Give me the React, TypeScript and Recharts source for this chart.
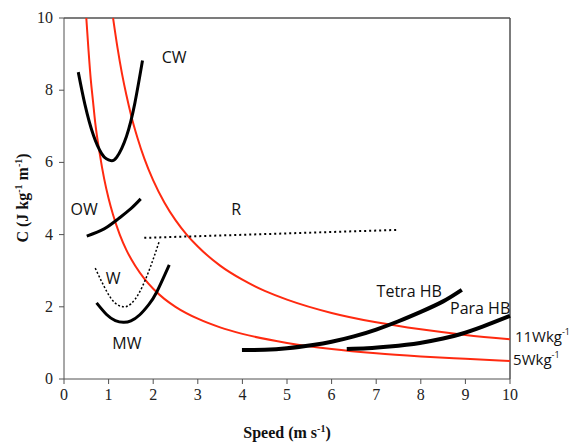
import React from 'react';
import { LineChart, Line, XAxis, YAxis, ReferenceLine, ReferenceDot } from 'recharts';

type Pt = { x: number; y: number };

// red iso-power curves
const p5W: Pt[] = [
  { x: 0.5, y: 10 }, { x: 0.55, y: 9.1 }, { x: 0.6, y: 8.3 }, { x: 0.65, y: 7.7 }, { x: 0.7, y: 7.1 },
  { x: 0.8, y: 6.25 }, { x: 0.9, y: 5.55 }, { x: 1, y: 5 }, { x: 1.1, y: 4.55 }, { x: 1.25, y: 4 },
  { x: 1.4, y: 3.57 }, { x: 1.6, y: 3.13 }, { x: 1.8, y: 2.78 }, { x: 2, y: 2.5 }, { x: 2.25, y: 2.22 },
  { x: 2.5, y: 2 }, { x: 3, y: 1.67 }, { x: 3.5, y: 1.43 }, { x: 4, y: 1.25 }, { x: 5, y: 1 },
  { x: 6, y: 0.83 }, { x: 7, y: 0.71 }, { x: 8, y: 0.625 }, { x: 9, y: 0.56 }, { x: 10, y: 0.5 },
];
const p11W: Pt[] = [
  { x: 1.1, y: 10 }, { x: 1.2, y: 9.17 }, { x: 1.3, y: 8.46 }, { x: 1.4, y: 7.86 }, { x: 1.5, y: 7.33 },
  { x: 1.65, y: 6.67 }, { x: 1.8, y: 6.11 }, { x: 2, y: 5.5 }, { x: 2.25, y: 4.89 }, { x: 2.5, y: 4.4 },
  { x: 2.75, y: 4 }, { x: 3, y: 3.67 }, { x: 3.5, y: 3.14 }, { x: 4, y: 2.75 }, { x: 4.5, y: 2.44 },
  { x: 5, y: 2.2 }, { x: 6, y: 1.83 }, { x: 7, y: 1.57 }, { x: 8, y: 1.375 }, { x: 9, y: 1.22 },
  { x: 10, y: 1.1 },
];

// locomotion modes
const cw: Pt[] = [
  { x: 0.32, y: 8.5 }, { x: 0.47, y: 7.6 }, { x: 0.66, y: 6.75 }, { x: 0.84, y: 6.25 }, { x: 0.95, y: 6.1 },
  { x: 1.05, y: 6.05 }, { x: 1.18, y: 6.14 }, { x: 1.4, y: 6.72 }, { x: 1.59, y: 7.65 }, { x: 1.76, y: 8.82 },
];
const ow: Pt[] = [{ x: 0.51, y: 3.96 }, { x: 0.9, y: 4.16 }, { x: 1.21, y: 4.43 }, { x: 1.5, y: 4.72 }, { x: 1.72, y: 4.99 }];
const run: Pt[] = [{ x: 1.8, y: 3.91 }, { x: 7.49, y: 4.13 }];
const walk: Pt[] = [
  { x: 0.7, y: 3.07 }, { x: 0.96, y: 2.42 }, { x: 1.15, y: 2.1 }, { x: 1.33, y: 2.0 }, { x: 1.5, y: 2.08 },
  { x: 1.7, y: 2.42 }, { x: 1.93, y: 3.08 }, { x: 2.14, y: 3.83 },
];
const mw: Pt[] = [
  { x: 0.73, y: 2.11 }, { x: 0.96, y: 1.78 }, { x: 1.15, y: 1.62 }, { x: 1.33, y: 1.57 }, { x: 1.5, y: 1.61 },
  { x: 1.7, y: 1.78 }, { x: 1.9, y: 2.06 }, { x: 2.08, y: 2.41 }, { x: 2.36, y: 3.16 },
];
const tetraHB: Pt[] = [
  { x: 3.99, y: 0.8 }, { x: 4.5, y: 0.81 }, { x: 5.0, y: 0.85 }, { x: 5.58, y: 0.94 }, { x: 6.0, y: 1.03 },
  { x: 6.5, y: 1.18 }, { x: 7.0, y: 1.37 }, { x: 7.5, y: 1.6 }, { x: 8.0, y: 1.86 }, { x: 8.5, y: 2.15 },
  { x: 8.92, y: 2.47 },
];
const paraHB: Pt[] = [
  { x: 6.34, y: 0.83 }, { x: 6.8, y: 0.85 }, { x: 7.3, y: 0.9 }, { x: 7.98, y: 1.0 }, { x: 8.5, y: 1.12 },
  { x: 8.88, y: 1.24 }, { x: 9.4, y: 1.46 }, { x: 10, y: 1.75 },
];

const xTicks = [0, 1, 2, 3, 4, 5, 6, 7, 8, 9, 10];
const yTicks = [0, 2, 4, 6, 8, 10];

const labels = [
  { x: 2.47, y: 8.92, text: 'CW' },
  { x: 0.45, y: 4.71, text: 'OW' },
  { x: 3.86, y: 4.71, text: 'R' },
  { x: 1.1, y: 2.8, text: 'W' },
  { x: 1.41, y: 1.0, text: 'MW' },
  { x: 7.74, y: 2.44, text: 'Tetra HB' },
  { x: 9.33, y: 1.97, text: 'Para HB' },
];
const powerLabels = [
  { x: 10.11, y: 1.2, text: '11Wkg' },
  { x: 10.07, y: 0.56, text: '5Wkg' },
];

const RED = '#ff2a10';
const AXIS = '#505050';
const SANS = '"Open Sans", sans-serif';
const SERIF = '"Liberation Serif", serif';

const XTick = (props: any) => (
  <text x={props.x} y={props.y + 12} textAnchor="middle" fontFamily={SERIF} fontSize={16} fill="#222">
    {props.payload.value}
  </text>
);
const YTick = (props: any) => (
  <text x={props.x} y={props.y + 5} textAnchor="end" fontFamily={SERIF} fontSize={16} fill="#222">
    {props.payload.value}
  </text>
);

export default function App() {
  return (
    <div style={{ position: 'absolute', left: 0, top: 0, background: '#fff' }}>
      <LineChart width={583} height={444} margin={{ top: 18, right: 73, bottom: 35, left: 24 }}>
        <XAxis
          type="number"
          dataKey="x"
          domain={[0, 10]}
          ticks={xTicks}
          tickSize={5}
          tickMargin={4}
          tick={<XTick />}
          stroke={AXIS}
          height={30}
          label={{
            content: () => (
              <text x={287} y={438} textAnchor="middle" fontFamily={SERIF} fontWeight="bold" fontSize={16} fill="#111">
                Speed (m s<tspan dy={-6} fontSize={10}>-1</tspan><tspan dy={6}>)</tspan>
              </text>
            ),
          }}
        />
        <YAxis
          type="number"
          dataKey="y"
          domain={[0, 10]}
          ticks={yTicks}
          tickSize={5}
          tickMargin={6}
          tick={<YTick />}
          stroke={AXIS}
          width={40}
          label={{
            content: () => (
              <text
                x={0}
                y={0}
                transform="translate(28,198) rotate(-90)"
                textAnchor="middle"
                fontFamily={SERIF}
                fontWeight="bold"
                fontSize={16}
                fill="#111"
              >
                C (J kg<tspan dy={-6} fontSize={10}>-1</tspan><tspan dy={6}> m</tspan>
                <tspan dy={-6} fontSize={10}>-1</tspan><tspan dy={6}>)</tspan>
              </text>
            ),
          }}
        />
        <ReferenceLine y={10} stroke={AXIS} strokeWidth={1.5} />
        <ReferenceLine x={10} stroke={AXIS} strokeWidth={1.5} />

        <Line data={p5W} dataKey="y" type="monotone" stroke={RED} strokeWidth={2} dot={false} isAnimationActive={false} />
        <Line data={p11W} dataKey="y" type="monotone" stroke={RED} strokeWidth={2} dot={false} isAnimationActive={false} />
        <Line data={cw} dataKey="y" type="natural" stroke="#000" strokeWidth={3} dot={false} isAnimationActive={false} />
        <Line data={ow} dataKey="y" type="natural" stroke="#000" strokeWidth={3} dot={false} isAnimationActive={false} />
        <Line data={run} dataKey="y" type="linear" stroke="#000" strokeWidth={2} strokeDasharray="2 3" dot={false} isAnimationActive={false} />
        <Line data={walk} dataKey="y" type="natural" stroke="#000" strokeWidth={1.5} strokeDasharray="2 2" dot={false} isAnimationActive={false} />
        <Line data={mw} dataKey="y" type="natural" stroke="#000" strokeWidth={3} dot={false} isAnimationActive={false} />
        <Line data={tetraHB} dataKey="y" type="natural" stroke="#000" strokeWidth={4} dot={false} isAnimationActive={false} />
        <Line data={paraHB} dataKey="y" type="natural" stroke="#000" strokeWidth={4} dot={false} isAnimationActive={false} />

        {labels.map((l) => (
          <ReferenceDot
            key={l.text}
            x={l.x}
            y={l.y}
            r={0}
            ifOverflow="visible"
            stroke="none"
            fill="none"
            label={{
              content: (props: any) => (
                <text
                  x={props.viewBox.x}
                  y={props.viewBox.y}
                  textAnchor="middle"
                  dominantBaseline="central"
                  fontFamily={SANS}
                  fontSize={16}
                  fill="#111"
                >
                  {l.text}
                </text>
              ),
            }}
          />
        ))}
        {powerLabels.map((l) => (
          <ReferenceDot
            key={l.text}
            x={l.x}
            y={l.y}
            r={0}
            ifOverflow="visible"
            stroke="none"
            fill="none"
            label={{
              content: (props: any) => (
                <text
                  x={props.viewBox.x}
                  y={props.viewBox.y}
                  dominantBaseline="central"
                  fontFamily={SANS}
                  fontSize={15}
                  fill="#111"
                >
                  {l.text}
                  <tspan dy={-5} fontSize={9}>-1</tspan>
                </text>
              ),
            }}
          />
        ))}
      </LineChart>
    </div>
  );
}
